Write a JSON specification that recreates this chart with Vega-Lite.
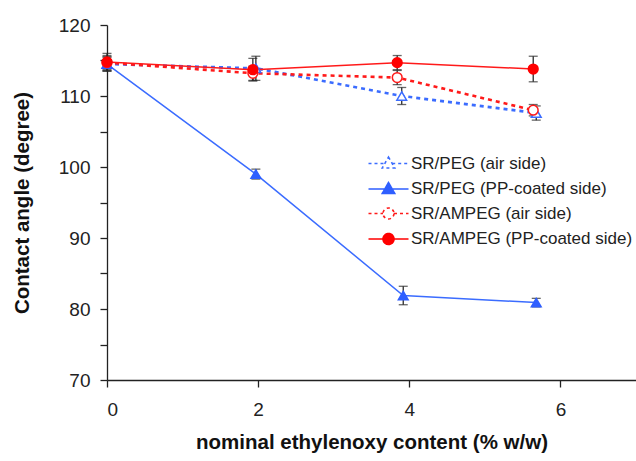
{
  "$schema": "https://vega.github.io/schema/vega-lite/v6.json",
  "width": 529,
  "height": 355,
  "autosize": {"type": "none"},
  "padding": {"left": 107, "top": 25, "right": 0, "bottom": 81},
  "background": "white",
  "config": {
    "font": "Liberation Sans",
    "view": {"stroke": null},
    "axis": {
      "grid": false,
      "domainColor": "#222222",
      "domainWidth": 1.3,
      "tickColor": "#222222",
      "tickWidth": 1.3,
      "tickSize": 7,
      "labelColor": "#222222",
      "labelFont": "Liberation Sans",
      "labelFontSize": 19,
      "titleColor": "#111111",
      "titleFont": "Liberation Sans",
      "titleFontSize": 20.5,
      "titleFontWeight": "bold"
    }
  },
  "data": {
    "values": [
      {"series": "SR/PEG (air side)", "content": 0, "angle": 114.5, "err": 1.0},
      {"series": "SR/PEG (air side)", "content": 1.97, "angle": 113.9, "err": 1.7},
      {"series": "SR/PEG (air side)", "content": 3.9, "angle": 110.0, "err": 1.2},
      {"series": "SR/PEG (air side)", "content": 5.68, "angle": 107.6, "err": 1.0},
      {"series": "SR/PEG (PP-coated side)", "content": 0, "angle": 114.5, "err": 1.0},
      {"series": "SR/PEG (PP-coated side)", "content": 1.97, "angle": 99.0, "err": 0.7},
      {"series": "SR/PEG (PP-coated side)", "content": 3.92, "angle": 81.9, "err": 1.3},
      {"series": "SR/PEG (PP-coated side)", "content": 5.68, "angle": 80.9, "err": 0.6},
      {"series": "SR/AMPEG (air side)", "content": 0, "angle": 114.7, "err": 1.0},
      {"series": "SR/AMPEG (air side)", "content": 1.93, "angle": 113.2, "err": 1.0},
      {"series": "SR/AMPEG (air side)", "content": 3.84, "angle": 112.6, "err": 1.0},
      {"series": "SR/AMPEG (air side)", "content": 5.64, "angle": 108.0, "err": 0.8},
      {"series": "SR/AMPEG (PP-coated side)", "content": 0, "angle": 114.8, "err": 1.2},
      {"series": "SR/AMPEG (PP-coated side)", "content": 1.93, "angle": 113.7, "err": 1.6},
      {"series": "SR/AMPEG (PP-coated side)", "content": 3.84, "angle": 114.7, "err": 1.0},
      {"series": "SR/AMPEG (PP-coated side)", "content": 5.64, "angle": 113.8, "err": 1.8}
    ]
  },
  "encoding": {
    "x": {
      "field": "content",
      "type": "quantitative",
      "scale": {"domain": [0, 7], "nice": false, "zero": false},
      "axis": {
        "title": "nominal ethylenoxy content (% w/w)",
        "values": [0, 2, 4, 6],
        "labelPadding": 13,
        "titlePadding": 13
      }
    },
    "y": {
      "field": "angle",
      "type": "quantitative",
      "scale": {"domain": [70, 120], "nice": false, "zero": false},
      "axis": {
        "title": "Contact angle (degree)",
        "values": [70, 75, 80, 85, 90, 95, 100, 105, 110, 115, 120],
        "labelExpr": "datum.value % 10 === 0 ? datum.label : ''",
        "labelPadding": 10,
        "titlePadding": 26
      }
    }
  },
  "layer": [
    {
      "transform": [{"filter": {"field": "series", "oneOf": ["SR/PEG (air side)", "SR/AMPEG (air side)"]}}],
      "mark": {"type": "line", "strokeWidth": 2.6, "strokeDash": [4, 4]},
      "encoding": {
        "stroke": {
          "field": "series",
          "type": "nominal",
          "scale": {
            "domain": ["SR/PEG (air side)", "SR/AMPEG (air side)"],
            "range": ["#3b6cff", "#ff1a1a"]
          },
          "legend": null
        }
      }
    },
    {
      "transform": [{"filter": {"field": "series", "oneOf": ["SR/PEG (PP-coated side)", "SR/AMPEG (PP-coated side)"]}}],
      "mark": {"type": "line", "strokeWidth": 1.5},
      "encoding": {
        "stroke": {
          "field": "series",
          "type": "nominal",
          "scale": {
            "domain": ["SR/PEG (PP-coated side)", "SR/AMPEG (PP-coated side)"],
            "range": ["#3b6cff", "#ff1a1a"]
          },
          "legend": null
        }
      }
    },
    {
      "mark": {
        "type": "errorbar",
        "ticks": {"size": 9, "thickness": 1.3, "color": "#2a2a2a"},
        "rule": {"strokeWidth": 1.3, "color": "#2a2a2a"}
      },
      "encoding": {
        "y": {"field": "angle", "type": "quantitative"},
        "yError": {"field": "err"}
      }
    },
    {
      "mark": {"type": "point", "strokeWidth": 1.5, "opacity": 1},
      "encoding": {
        "shape": {
          "field": "series",
          "type": "nominal",
          "scale": {
            "domain": ["SR/PEG (air side)", "SR/PEG (PP-coated side)", "SR/AMPEG (air side)", "SR/AMPEG (PP-coated side)"],
            "range": ["triangle-up", "triangle-up", "circle", "circle"]
          },
          "legend": null
        },
        "stroke": {
          "field": "series",
          "type": "nominal",
          "scale": {
            "domain": ["SR/PEG (air side)", "SR/PEG (PP-coated side)", "SR/AMPEG (air side)", "SR/AMPEG (PP-coated side)"],
            "range": ["#3b6cff", "#2f5fff", "#ff1a1a", "#ff0000"]
          },
          "legend": null
        },
        "fill": {
          "field": "series",
          "type": "nominal",
          "scale": {
            "domain": ["SR/PEG (air side)", "SR/PEG (PP-coated side)", "SR/AMPEG (air side)", "SR/AMPEG (PP-coated side)"],
            "range": ["#ffffff", "#2f5fff", "#ffffff", "#ff0000"]
          },
          "legend": null
        },
        "size": {"value": 95}
      }
    },
    {
      "transform": [{"filter": "false"}],
      "mark": {"type": "point", "strokeWidth": 1.6, "opacity": 1},
      "encoding": {
        "shape": {
          "field": "series",
          "type": "nominal",
          "scale": {
            "domain": ["SR/PEG (air side)", "SR/PEG (PP-coated side)", "SR/AMPEG (air side)", "SR/AMPEG (PP-coated side)"],
            "range": [
              "M-4,0L-0.74,0M0.74,0L4,0M0,-1.3L1.25,0.9L-1.25,0.9Z",
              "M-4,0L4,0M0,-1.3L1.25,0.9L-1.25,0.9Z",
              "M-4,0L-1.1,0M1.1,0L4,0M1.1,0A1.1,1.1 0 1,1 -1.1,0A1.1,1.1 0 1,1 1.1,0Z",
              "M-4,0L4,0M1.1,0A1.1,1.1 0 1,1 -1.1,0A1.1,1.1 0 1,1 1.1,0Z"
            ]
          },
          "legend": {
            "title": null,
            "orient": "none",
            "legendX": 273,
            "legendY": 130,
            "padding": 0,
            "symbolSize": 100,
            "symbolStrokeWidth": 1.6,
            "symbolOpacity": 1,
            "labelFont": "Liberation Sans",
            "labelFontSize": 17,
            "labelColor": "#222222",
            "labelOffset": 14,
            "labelLimit": 400,
            "rowPadding": 6.5
          }
        },
        "stroke": {
          "field": "series",
          "type": "nominal",
          "scale": {
            "domain": ["SR/PEG (air side)", "SR/PEG (PP-coated side)", "SR/AMPEG (air side)", "SR/AMPEG (PP-coated side)"],
            "range": ["#3b6cff", "#2f5fff", "#ff1a1a", "#ff0000"]
          }
        },
        "fill": {
          "field": "series",
          "type": "nominal",
          "scale": {
            "domain": ["SR/PEG (air side)", "SR/PEG (PP-coated side)", "SR/AMPEG (air side)", "SR/AMPEG (PP-coated side)"],
            "range": ["#ffffff", "#2f5fff", "#ffffff", "#ff0000"]
          }
        },
        "strokeDash": {
          "field": "series",
          "type": "nominal",
          "scale": {
            "domain": ["SR/PEG (air side)", "SR/PEG (PP-coated side)", "SR/AMPEG (air side)", "SR/AMPEG (PP-coated side)"],
            "range": [[3, 3], [1, 0], [3, 3], [1, 0]]
          }
        }
      }
    }
  ],
  "resolve": {
    "scale": {
      "stroke": "independent",
      "fill": "independent",
      "shape": "independent",
      "strokeDash": "independent"
    }
  }
}
